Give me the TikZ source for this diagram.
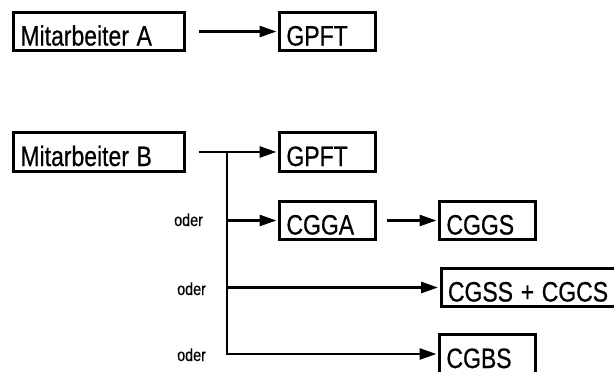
\documentclass[tikz,border=0pt]{standalone}
\usepackage{fontspec}
\setmainfont{Liberation Sans}[FakeBold=0.6]
\usetikzlibrary{arrows.meta}
% narrow lettering: Liberation Sans squeezed horizontally
\newcommand{\narrow}[1]{\scalebox{0.82}[1]{#1}}
\begin{document}
\begin{tikzpicture}[x=1pt, y=-1pt,
  box/.style={draw, line width=3pt, rectangle, inner xsep=7pt, inner ysep=0pt,
    minimum height=38.5pt, text height=28pt, text depth=0pt, align=left,
    font=\fontsize{28}{30}\selectfont},
  smallbox/.style={box, text width=82pt},
  widebox/.style={box, text width=157pt},
  conn/.style={line width=2.7pt, -{Triangle[length=17pt, width=11pt]}, shorten >=1.5pt},
  oder/.style={anchor=base west, inner sep=0pt, font=\fontsize{17.5}{19}\selectfont}]
\path[use as bounding box, clip] (0,0) rectangle (614,372);

% first employee
\node[widebox]  (ma) at (99,31.5) {\narrow{Mitarbeiter A}};
\node[smallbox] (ga) at (327.5,31.5) {\narrow{GPFT}};
\draw[conn, shorten <=12.5pt] (ma.east) -- (ga.west);

% second employee and alternatives
\node[widebox]  (mb)   at (99,152)    {\narrow{Mitarbeiter B}};
\node[smallbox] (gb)   at (327.5,152) {\narrow{GPFT}};
\node[smallbox] (cgga) at (327.5,220.5) {\narrow{CGGA}};
\node[smallbox] (cggs) at (487.5,220.5) {\narrow{CGGS}};
\node[box, text width=220pt, anchor=west] (cgss) at (439.5,287.5) {\narrow{CGSS + CGCS}};
\node[smallbox] (cgbs) at (487.5,354) {\narrow{CGBS}};

\coordinate (split) at (227,152);
\draw[conn, shorten <=12.5pt] (mb.east) -- (gb.west);
\draw[conn] (split) |- (cgbs.west);
\draw[conn] (split |- cgga.west) -- (cgga.west);
\draw[conn] (split |- cgss.west) -- (cgss.west);
\draw[conn, shorten <=9.5pt] (cgga.east) -- (cggs.west);

\node[oder] (o1) at (174,226) {\narrow{oder}};
\node[oder] (o2) at (177,295) {\narrow{oder}};
\node[oder] (o3) at (177,361) {\narrow{oder}};
\end{tikzpicture}
\end{document}
